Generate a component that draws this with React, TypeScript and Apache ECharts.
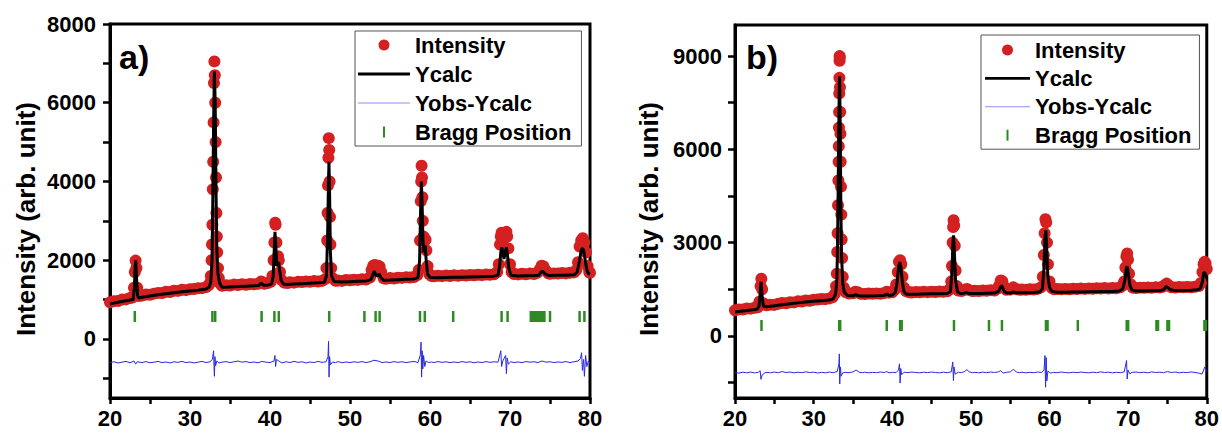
import React, { useEffect, useRef } from 'react';
import * as echarts from 'echarts';

const FONT = '"Liberation Sans", Arial, Helvetica, sans-serif';

// ---------- Panel a) ----------
const obsA: number[][] = [
  [20,930],[20.5,960],[21,965],[21.5,1000],[22,1005],[22.5,1040],[22.8,1050],[23.0,1300],[23.1,1700],[23.2,1990],[23.3,1800],[23.4,1300],[23.6,1090],[24,1100],[24.5,1130],[25,1120],[25.5,1150],[26,1170],[26.5,1165],[27,1200],[27.5,1190],[28,1225],[28.5,1220],[29,1250],[29.5,1240],[30,1265],[30.5,1270],[31,1285],[31.5,1290],[32,1315],[32.3,1360],[32.5,1420],[32.6,1600],[32.7,2000],[32.75,2400],[32.8,2900],[32.85,3800],[32.9,4500],[32.95,5500],[33.0,6500],[33.05,7050],[33.1,6700],[33.15,6000],[33.2,5000],[33.25,4100],[33.3,3200],[33.35,2600],[33.4,2200],[33.5,1800],[33.6,1550],[33.8,1400],[34,1350],[34.5,1365],[35,1355],[35.5,1380],[36,1370],[36.5,1390],[37,1375],[37.5,1395],[38,1390],[38.5,1400],[38.9,1460],[39.3,1400],[39.7,1420],[40.1,1450],[40.3,1600],[40.45,2000],[40.55,2450],[40.65,2950],[40.7,2900],[40.8,2450],[40.9,2050],[41.0,2100],[41.1,2000],[41.25,1700],[41.45,1500],[41.8,1430],[42.2,1420],[42.5,1440],[43,1430],[43.5,1450],[44,1445],[44.5,1460],[45,1450],[45.5,1470],[46,1460],[46.5,1475],[46.9,1520],[47.05,1800],[47.15,2500],[47.2,3200],[47.25,3900],[47.3,4600],[47.35,5100],[47.4,4800],[47.45,4000],[47.5,3100],[47.55,2400],[47.65,1800],[47.8,1550],[48.2,1480],[48.5,1485],[49,1475],[49.5,1500],[50,1490],[50.5,1505],[51,1500],[51.5,1515],[52,1510],[52.5,1560],[52.7,1750],[52.9,1860],[53.1,1880],[53.3,1820],[53.5,1860],[53.7,1840],[53.9,1700],[54.2,1540],[54.5,1530],[55,1545],[55.5,1535],[56,1555],[56.5,1550],[57,1565],[57.5,1560],[58,1575],[58.4,1620],[58.6,1750],[58.75,2500],[58.85,3500],[58.9,4000],[58.95,4400],[59.0,4100],[59.05,3600],[59.1,3000],[59.2,2600],[59.35,2500],[59.45,2520],[59.55,2250],[59.7,1850],[59.9,1650],[60.2,1600],[60.5,1590],[61,1605],[61.5,1595],[62,1610],[62.5,1600],[63,1615],[63.5,1605],[64,1620],[64.5,1610],[65,1625],[65.5,1615],[66,1630],[66.5,1620],[67,1635],[67.5,1630],[68,1645],[68.4,1700],[68.6,1900],[68.75,2400],[68.85,2600],[68.95,2700],[69.1,2650],[69.25,2550],[69.4,2650],[69.55,2720],[69.65,2600],[69.8,2300],[70.0,1900],[70.2,1700],[70.5,1650],[71,1640],[71.5,1655],[72,1645],[72.5,1660],[73,1650],[73.4,1680],[73.7,1760],[73.95,1860],[74.2,1840],[74.5,1730],[74.8,1670],[75,1655],[75.5,1665],[76,1660],[76.5,1675],[77,1665],[77.5,1680],[78,1690],[78.3,1750],[78.5,1950],[78.7,2350],[78.9,2500],[79.1,2560],[79.3,2450],[79.5,2200],[79.7,1850],[79.9,1700],[80,1680]
];

const calcA: number[][] = [
  [20,890],[20.5,910],[21,930],[21.5,950],[22,970],[22.5,990],[22.9,1000],[23.05,1300],[23.15,1850],[23.22,2000],[23.3,1600],[23.45,1100],[23.6,1040],[24,1060],[25,1090],[26,1120],[27,1150],[28,1175],[29,1200],[30,1220],[31,1240],[32,1270],[32.4,1320],[32.6,1450],[32.75,2000],[32.85,3500],[32.95,5500],[33.05,6800],[33.15,6000],[33.25,3800],[33.35,2300],[33.5,1650],[33.7,1420],[34,1310],[35,1320],[36,1330],[37,1340],[38,1350],[38.6,1360],[38.9,1420],[39.2,1365],[39.8,1370],[40.2,1400],[40.4,1600],[40.52,2200],[40.62,2720],[40.72,2400],[40.85,1850],[40.98,1900],[41.08,1950],[41.2,1750],[41.4,1480],[41.7,1395],[42,1385],[43,1395],[44,1405],[45,1415],[46,1425],[46.8,1440],[47.05,1600],[47.2,2600],[47.3,3900],[47.37,4500],[47.45,3700],[47.55,2200],[47.7,1600],[48,1460],[49,1445],[50,1455],[51,1465],[52,1475],[52.6,1500],[52.85,1640],[53.05,1720],[53.25,1610],[53.45,1600],[53.65,1650],[53.85,1560],[54.2,1490],[55,1495],[56,1505],[57,1515],[58,1525],[58.5,1560],[58.7,2000],[58.82,3200],[58.92,4000],[59.02,3400],[59.12,2500],[59.25,2200],[59.4,2370],[59.52,2000],[59.7,1650],[60,1560],[61,1555],[62,1560],[63,1565],[64,1570],[65,1575],[66,1580],[67,1585],[68,1595],[68.5,1620],[68.7,1850],[68.85,2200],[68.97,2330],[69.1,2200],[69.25,2030],[69.4,2200],[69.55,2330],[69.7,2100],[69.85,1800],[70.1,1620],[71,1600],[72,1605],[73,1610],[73.6,1620],[73.9,1700],[74.1,1720],[74.4,1650],[74.8,1610],[75,1610],[76,1615],[77,1620],[78,1630],[78.4,1700],[78.7,2000],[78.9,2250],[79.05,2300],[79.2,2260],[79.4,2000],[79.6,1760],[79.8,1660],[80,1640]
];

const diffA: number[][] = [
  [20,-600],[20.5,-580],[21,-610],[21.5,-590],[22,-570],[22.5,-605],[23,-560],[23.2,-640],[23.4,-580],[24,-600],[24.5,-575],[25,-605],[25.5,-590],[26,-570],[26.5,-600],[27,-585],[27.5,-610],[28,-580],[28.5,-595],[29,-570],[29.5,-600],[30,-585],[30.5,-610],[31,-590],[31.5,-570],[32,-600],[32.5,-580],[32.8,-520],[32.95,-300],[33.0,-700],[33.05,-950],[33.12,-450],[33.2,-680],[33.35,-560],[33.6,-610],[34,-590],[34.5,-575],[35,-600],[35.5,-580],[36,-560],[36.5,-590],[37,-575],[37.5,-600],[38,-585],[38.5,-605],[39,-570],[39.5,-590],[40,-600],[40.5,-560],[40.62,-420],[40.7,-700],[40.8,-520],[41.1,-560],[41.5,-610],[42,-580],[42.5,-600],[43,-570],[43.5,-595],[44,-580],[44.5,-610],[45,-585],[45.5,-600],[46,-570],[46.5,-595],[47,-580],[47.25,-450],[47.32,-60],[47.38,-970],[47.45,-450],[47.55,-660],[47.8,-590],[48.2,-600],[48.5,-575],[49,-605],[49.5,-585],[50,-600],[50.5,-580],[51,-595],[51.5,-575],[52,-600],[52.5,-580],[53,-540],[53.5,-560],[54,-600],[54.5,-585],[55,-600],[55.5,-575],[56,-595],[56.5,-580],[57,-600],[57.5,-585],[58,-570],[58.5,-600],[58.8,-400],[58.88,-80],[58.95,-970],[59.02,-300],[59.1,-760],[59.2,-420],[59.35,-700],[59.5,-560],[59.8,-600],[60.2,-585],[60.5,-600],[61,-575],[61.5,-595],[62,-580],[62.5,-600],[63,-585],[63.5,-600],[64,-575],[64.5,-595],[65,-580],[65.5,-605],[66,-585],[66.5,-600],[67,-575],[67.5,-595],[68,-580],[68.5,-590],[68.85,-300],[68.95,-700],[69.1,-560],[69.45,-420],[69.55,-880],[69.65,-480],[69.8,-640],[70.1,-580],[70.5,-600],[71,-585],[71.5,-600],[72,-575],[72.5,-590],[73,-580],[73.5,-600],[74,-560],[74.5,-590],[75,-580],[75.5,-600],[76,-585],[76.5,-595],[77,-575],[77.5,-600],[78,-580],[78.5,-560],[78.8,-500],[78.95,-350],[79.05,-800],[79.2,-520],[79.3,-950],[79.45,-420],[79.6,-700],[79.8,-560],[80,-620]
];

const braggA: number[] = [23.1, 32.8, 33.15, 38.95, 40.55, 41.1, 47.4, 51.8, 53.2, 53.7, 58.75, 59.35, 62.9, 68.95, 69.7, 72.6, 72.85, 73.1, 73.35, 73.6, 73.85, 74.1, 74.3, 75.0, 78.7, 79.3];
const braggLevelA = 570;

// ---------- Panel b) ----------
const obsB: number[][] = [
  [20,820],[20.5,850],[21,845],[21.5,880],[22,875],[22.5,905],[22.9,920],[23.1,1100],[23.25,1600],[23.35,1840],[23.45,1500],[23.6,1050],[24,980],[24.5,1000],[25,995],[25.5,1030],[26,1060],[26.5,1050],[27,1080],[27.5,1075],[28,1110],[28.5,1105],[29,1135],[29.5,1130],[30,1160],[30.5,1165],[31,1185],[31.5,1180],[32,1205],[32.4,1240],[32.7,1350],[32.85,1600],[32.95,2000],[33.0,2700],[33.05,3300],[33.1,4200],[33.15,5000],[33.18,5600],[33.2,6100],[33.22,6700],[33.24,7200],[33.26,7800],[33.28,8300],[33.3,8850],[33.31,9000],[33.32,8950],[33.35,8000],[33.38,7200],[33.41,6500],[33.44,5600],[33.48,4800],[33.52,3900],[33.57,3100],[33.62,2500],[33.7,1900],[33.85,1550],[34.1,1400],[34.5,1360],[35,1370],[35.3,1420],[35.6,1400],[36,1350],[36.5,1345],[37,1360],[37.5,1350],[38,1365],[38.5,1355],[39,1380],[39.3,1420],[39.6,1390],[40,1400],[40.3,1480],[40.5,1650],[40.7,2050],[40.85,2380],[41.0,2430],[41.15,2300],[41.3,1900],[41.5,1550],[41.8,1430],[42.2,1400],[42.5,1395],[43,1410],[43.5,1400],[44,1415],[44.5,1405],[45,1420],[45.5,1410],[46,1425],[46.5,1415],[47,1435],[47.3,1500],[47.5,1750],[47.6,2250],[47.68,3000],[47.74,3500],[47.8,3720],[47.88,3550],[47.95,2900],[48.05,2100],[48.2,1600],[48.4,1460],[48.8,1440],[49.2,1480],[49.5,1510],[49.8,1470],[50.2,1440],[50.5,1450],[51,1440],[51.5,1460],[52,1450],[52.5,1470],[53,1460],[53.4,1520],[53.6,1620],[53.8,1780],[54.0,1760],[54.2,1590],[54.5,1480],[55,1485],[55.4,1560],[55.8,1500],[56.2,1480],[56.5,1490],[57,1480],[57.5,1500],[58,1490],[58.5,1510],[58.9,1560],[59.15,1900],[59.28,2600],[59.38,3300],[59.48,3750],[59.58,3650],[59.68,3000],[59.8,2300],[60.0,1750],[60.3,1540],[60.6,1500],[61,1505],[61.5,1495],[62,1510],[62.5,1500],[63,1515],[63.5,1505],[64,1520],[64.5,1510],[65,1525],[65.5,1515],[66,1530],[66.5,1520],[67,1535],[67.5,1525],[68,1540],[68.5,1530],[69,1560],[69.3,1620],[69.5,1750],[69.65,2200],[69.78,2550],[69.88,2650],[69.98,2450],[70.12,2000],[70.35,1650],[70.6,1550],[71,1540],[71.5,1550],[72,1545],[72.5,1555],[73,1545],[73.5,1560],[74,1555],[74.4,1580],[74.65,1630],[74.9,1680],[75.2,1610],[75.5,1565],[76,1555],[76.5,1570],[77,1560],[77.5,1575],[78,1565],[78.5,1580],[79,1600],[79.25,1700],[79.45,2050],[79.6,2300],[79.72,2380],[79.85,2330],[80,2150]
];

const calcB: number[][] = [
  [20,770],[21,800],[22,830],[22.8,855],[23.05,950],[23.2,1350],[23.3,1740],[23.42,1350],[23.6,960],[24,935],[25,965],[26,1000],[27,1030],[28,1060],[29,1090],[30,1110],[31,1130],[32,1150],[32.5,1190],[32.8,1350],[32.95,1800],[33.05,3000],[33.15,5500],[33.25,7800],[33.3,8350],[33.38,6800],[33.46,4200],[33.55,2600],[33.7,1700],[33.9,1400],[34.3,1300],[35,1290],[35.3,1320],[35.7,1290],[36,1285],[37,1285],[38,1290],[39,1300],[39.3,1340],[39.6,1300],[40,1310],[40.4,1400],[40.6,1700],[40.8,2200],[40.95,2370],[41.1,2200],[41.3,1700],[41.5,1420],[41.8,1340],[42.5,1335],[43,1340],[44,1345],[45,1350],[46,1355],[47,1360],[47.4,1420],[47.58,2000],[47.7,2900],[47.8,3235],[47.9,2700],[48.05,1800],[48.3,1420],[48.6,1365],[49,1365],[49.4,1390],[49.8,1365],[50,1360],[51,1365],[52,1370],[53,1375],[53.5,1420],[53.7,1530],[53.9,1620],[54.1,1520],[54.3,1410],[54.6,1380],[55,1380],[55.4,1410],[55.8,1385],[56,1385],[57,1390],[58,1395],[58.8,1420],[59.1,1520],[59.3,2200],[59.43,3200],[59.53,3400],[59.63,2900],[59.78,1950],[60,1560],[60.3,1430],[61,1405],[62,1405],[63,1410],[64,1410],[65,1415],[66,1420],[67,1425],[68,1430],[68.8,1440],[69.3,1500],[69.6,1800],[69.78,2200],[69.9,2215],[70.05,1950],[70.25,1600],[70.5,1470],[71,1445],[72,1445],[73,1450],[74,1455],[74.5,1480],[74.8,1580],[75.1,1550],[75.4,1480],[76,1455],[77,1460],[78,1465],[78.8,1480],[79.2,1530],[79.45,1750],[79.65,2050],[79.8,2000],[80,1850]
];

const diffB: number[][] = [
  [20,-1180],[20.5,-1200],[21,-1170],[21.5,-1190],[22,-1165],[22.5,-1195],[23,-1170],[23.2,-1120],[23.3,-1400],[23.45,-1260],[23.8,-1190],[24.2,-1175],[24.5,-1190],[25,-1165],[25.5,-1185],[26,-1150],[26.5,-1180],[27,-1165],[27.5,-1190],[28,-1170],[28.5,-1185],[29,-1160],[29.5,-1180],[30,-1170],[30.5,-1195],[31,-1175],[31.5,-1190],[32,-1165],[32.5,-1185],[33,-1150],[33.22,-900],[33.27,-580],[33.32,-1550],[33.4,-1000],[33.5,-1300],[33.7,-1190],[34,-1175],[34.5,-1185],[35,-1160],[35.4,-1100],[35.8,-1170],[36.2,-1185],[36.5,-1170],[37,-1190],[37.5,-1175],[38,-1185],[38.5,-1165],[39,-1180],[39.3,-1150],[39.6,-1190],[40,-1175],[40.5,-1180],[40.8,-1100],[40.92,-900],[41.0,-1520],[41.08,-1050],[41.2,-1250],[41.5,-1170],[42,-1185],[42.5,-1165],[43,-1180],[43.5,-1190],[44,-1170],[44.5,-1185],[45,-1165],[45.5,-1180],[46,-1190],[46.5,-1170],[47,-1185],[47.5,-1160],[47.7,-840],[47.78,-1440],[47.86,-1000],[48,-1230],[48.4,-1175],[48.8,-1180],[49.2,-1150],[49.5,-1090],[49.8,-1160],[50.2,-1185],[50.5,-1175],[51,-1190],[51.5,-1170],[52,-1185],[52.5,-1165],[53,-1180],[53.5,-1160],[53.8,-1120],[54.1,-1200],[54.5,-1175],[55,-1160],[55.4,-1080],[55.8,-1165],[56.2,-1185],[56.5,-1170],[57,-1190],[57.5,-1175],[58,-1185],[58.5,-1165],[59,-1180],[59.3,-1100],[59.42,-635],[59.5,-1655],[59.58,-700],[59.66,-1450],[59.8,-1130],[60.1,-1200],[60.5,-1175],[61,-1185],[61.5,-1165],[62,-1180],[62.5,-1190],[63,-1170],[63.5,-1185],[64,-1165],[64.5,-1180],[65,-1190],[65.5,-1170],[66,-1185],[66.5,-1160],[67,-1180],[67.5,-1170],[68,-1190],[68.5,-1175],[69,-1185],[69.5,-1160],[69.8,-795],[69.88,-1390],[69.98,-1100],[70.2,-1220],[70.5,-1175],[71,-1165],[71.5,-1185],[72,-1170],[72.5,-1190],[73,-1160],[73.5,-1180],[74,-1170],[74.5,-1185],[75,-1150],[75.5,-1180],[76,-1165],[76.5,-1190],[77,-1170],[77.5,-1185],[78,-1160],[78.5,-1180],[79,-1200],[79.4,-1230],[79.6,-1100],[79.75,-1000],[80,-1150]
];

const braggB: number[] = [23.37, 33.25, 33.38, 39.3, 41.0, 41.2, 47.85, 52.3, 53.95, 59.55, 59.75, 63.6, 69.82, 70.0, 73.6, 73.8, 75.0, 75.2, 79.7, 79.9];
const braggLevelB = 333;

// ---------- Axis labels ----------
const xTicks = [20, 30, 40, 50, 60, 70, 80];
const yLabelsA = [0, 2000, 4000, 6000, 8000];
const yTicksA = [-1000, 0, 1000, 2000, 3000, 4000, 5000, 6000, 7000, 8000];
const yLabelsB = [0, 3000, 6000, 9000];
const yTicksB = [-1500, 0, 1500, 3000, 4500, 6000, 7500, 9000];
const legendNames = ['Intensity', 'Ycalc', 'Yobs-Ycalc', 'Bragg Position'];
const yTitle = 'Intensity (arb. unit)';

const RED = '#d42020';
const BLUE = '#2a2ae2';
const GREEN = '#2e8a22';

function xAxis(gridIndex: number) {
  return {
    type: 'value', gridIndex, min: 20, max: 80, interval: 5,
    axisLine: { show: true, onZero: false, lineStyle: { color: '#000', width: 3 } },
    axisTick: { show: true, inside: false, length: 6, lineStyle: { color: '#000', width: 2.5 } },
    axisLabel: {
      margin: 9, color: '#000', fontSize: 22, fontWeight: 'bold', fontFamily: FONT,
      formatter: (v: number) => (xTicks.indexOf(v) >= 0 ? String(v) : ''),
    },
    splitLine: { show: false },
  };
}

function yAxis(gridIndex: number, min: number, max: number, labels: number[], ticks: number[], margin: number) {
  return {
    type: 'value', gridIndex, min, max,
    axisLine: { show: true, onZero: false, lineStyle: { color: '#000', width: 3 } },
    axisTick: { show: true, inside: false, length: 7, customValues: ticks, lineStyle: { color: '#000', width: 2.5 } },
    axisLabel: {
      customValues: labels, margin, color: '#000', fontSize: 22, fontWeight: 'bold', fontFamily: FONT,
      formatter: (v: number) => String(v),
    },
    splitLine: { show: false },
  };
}

function panelSeries(idx: number, obs: number[][], calc: number[][], diff: number[][], bragg: number[], level: number) {
  return [
    { type: 'scatter', name: 'Intensity', xAxisIndex: idx, yAxisIndex: idx, data: obs, symbol: 'circle', symbolSize: 12, itemStyle: { color: RED, opacity: 1 }, z: 2, silent: true },
    { type: 'line', name: 'Ycalc', xAxisIndex: idx, yAxisIndex: idx, data: calc, symbol: 'none', lineStyle: { color: '#000', width: 3 }, itemStyle: { color: '#000' }, z: 3, silent: true },
    { type: 'line', name: 'Yobs-Ycalc', xAxisIndex: idx, yAxisIndex: idx, data: diff, symbol: 'none', lineStyle: { color: BLUE, width: 1 }, itemStyle: { color: BLUE }, z: 3, silent: true },
    { type: 'scatter', name: 'Bragg Position', xAxisIndex: idx, yAxisIndex: idx, data: bragg.map((x) => [x, level]), symbol: 'rect', symbolSize: [2.5, 11], itemStyle: { color: GREEN, opacity: 1 }, z: 4, silent: true },
  ];
}

function legend(left: number, top: number, itemWidth: number, itemGap: number, padding: number[]) {
  return {
    left, top, orient: 'vertical', itemWidth, itemHeight: 11, itemGap, padding,
    borderColor: '#555', borderWidth: 1, selectedMode: false,
    textStyle: { fontSize: 22, fontWeight: 'bold', color: '#000', fontFamily: FONT },
    data: [
      { name: legendNames[0], icon: 'circle', itemStyle: { color: RED, opacity: 1 } },
      { name: legendNames[1], icon: 'path://M0,0H50V3H0Z', itemStyle: { color: '#000' } },
      { name: legendNames[2], icon: 'path://M0,0H50V1H0Z', itemStyle: { color: '#8c8cf0' } },
      { name: legendNames[3], icon: 'path://M0,0H2V11H0Z', itemStyle: { color: GREEN } },
    ],
  };
}

const option = {
  animation: false,
  backgroundColor: '#fff',
  grid: [
    { left: 110, top: 24, width: 480, height: 374, show: true, borderColor: '#000', borderWidth: 3, backgroundColor: 'transparent' },
    { left: 735, top: 25, width: 474, height: 373, show: true, borderColor: '#000', borderWidth: 3, backgroundColor: 'transparent' },
  ],
  xAxis: [xAxis(0), xAxis(1)],
  yAxis: [
    yAxis(0, -1500, 8000, yLabelsA, yTicksA, 14),
    yAxis(1, -2000, 10000, yLabelsB, yTicksB, 13),
  ],
  legend: [
    legend(355, 31, 52, 7, [3, 10, 3, 3]),
    legend(981, 35, 45, 6.4, [4, 8, 3, 4]),
  ],
  graphic: [
    { type: 'text', x: 119, y: 57, style: { text: 'a)', fontSize: 34, fontWeight: 'bold', fontFamily: FONT, fill: '#000', align: 'left', verticalAlign: 'middle' } },
    { type: 'text', x: 746, y: 57, style: { text: 'b)', fontSize: 34, fontWeight: 'bold', fontFamily: FONT, fill: '#000', align: 'left', verticalAlign: 'middle' } },
    { type: 'text', x: 26, y: 219, rotation: Math.PI / 2, style: { text: yTitle, fontSize: 26, fontWeight: 'bold', fontFamily: FONT, fill: '#000', align: 'center', verticalAlign: 'middle' } },
    { type: 'text', x: 649, y: 219, rotation: Math.PI / 2, style: { text: yTitle, fontSize: 26, fontWeight: 'bold', fontFamily: FONT, fill: '#000', align: 'center', verticalAlign: 'middle' } },
  ],
  series: [
    ...panelSeries(0, obsA, calcA, diffA, braggA, braggLevelA),
    ...panelSeries(1, obsB, calcB, diffB, braggB, braggLevelB),
  ],
};

export default function App() {
  const ref = useRef<HTMLDivElement>(null);
  useEffect(() => {
    const chart = echarts.init(ref.current!, null, { renderer: 'svg' });
    chart.setOption(option as any);
    return () => chart.dispose();
  }, []);
  return <div ref={ref} style={{ position: 'fixed', left: 0, top: 0, width: 1222, height: 433, background: '#fff' }} />;
}
